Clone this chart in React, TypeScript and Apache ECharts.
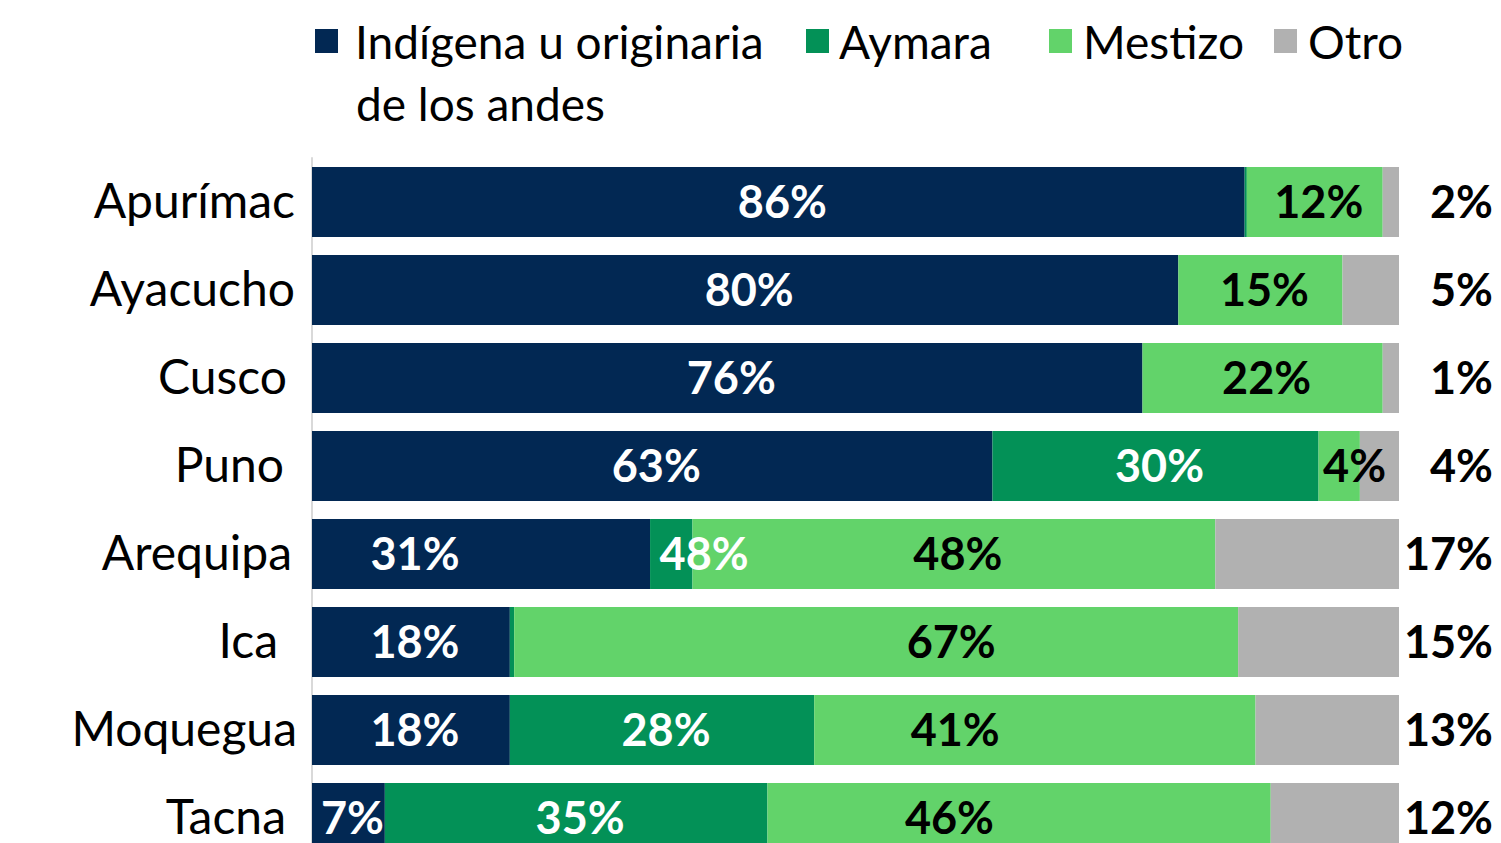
import React, { useEffect, useRef } from "react";
import * as echarts from "echarts";

const categories = ["Apurímac", "Ayacucho", "Cusco", "Puno", "Arequipa", "Ica", "Moquegua", "Tacna"];
const seriesNames = ["Indígena u originaria de los andes", "Aymara", "Mestizo", "Otro"];
const legendLine1 = "Indígena u originaria";
const legendLine2 = "de los andes";

const indigena = [85.8, 79.7, 76.4, 62.6, 31.1, 18.2, 18.2, 6.7];
const aymara = [0.2, 0, 0, 30.0, 3.9, 0.4, 28.0, 35.2];
const mestizo = [12.5, 15.1, 22.1, 3.8, 48.1, 66.6, 40.6, 46.3];
const otro = [1.5, 5.2, 1.5, 3.6, 16.9, 14.8, 13.2, 11.8];

const indigenaLabels = ["86%", "80%", "76%", "63%", "31%", "18%", "18%", "7%"];
const aymaraLabels = ["", "", "", "30%", "48%", "", "28%", "35%"];
const mestizoLabels = ["12%", "15%", "22%", "4%", "48%", "67%", "41%", "46%"];
const otroLabels = ["2%", "5%", "1%", "4%", "17%", "15%", "13%", "12%"];

const COLORS = ["#022853", "#039157", "#62D36A", "#B1B1B1"];
const FONT = "Lato";
const LEGEND_SIZE = 46;
const LABEL_SIZE = 45;
const CAT_SIZE = 48;

// label placement tweaks (pixels from the segment's left edge), styling only
const labelShift: Record<string, number> = {
  "0-4": 103,
  "1-4": 54,
  "2-3": 36,
  "2-5": 437,
  "2-6": 141,
  "2-7": 182,
};
// extra right padding of category labels (styling only)
const catPad = [2, 2, 10, 13, 5, 19, 0, 11];

function buildSeries(si: number, values: number[], labels: string[], color: string, labelColor: string) {
  return {
    name: seriesNames[si],
    type: "bar",
    stack: "total",
    barWidth: 70,
    itemStyle: { color },
    data: values.map((v, i) => {
      const key = `${si}-${i}`;
      const d: any = { value: v };
      if (labelShift[key] !== undefined) {
        d.label = { position: [labelShift[key], "50%"], align: "center", verticalAlign: "middle", offset: [0, -1] };
      }
      return d;
    }),
    label: {
      show: true,
      position: "inside",
      offset: [4, -1],
      color: labelColor,
      fontFamily: FONT,
      fontWeight: "bold",
      fontSize: LABEL_SIZE,
      formatter: (p: any) => labels[p.dataIndex],
    },
  };
}

export default function App() {
  const ref = useRef<HTMLDivElement>(null);
  useEffect(() => {
    if (!ref.current) return;
    const chart = echarts.init(ref.current, null, { renderer: "svg" });
    const rich: any = {};
    catPad.forEach((p, i) => {
      rich["c" + i] = { fontSize: CAT_SIZE, fontFamily: FONT, color: "#000", padding: [0, p, 6, 0] };
    });
    const legendBase = {
      orient: "horizontal",
      top: 18,
      padding: 0,
      itemWidth: 23,
      itemHeight: 24,
      icon: "rect",
      selectedMode: false,
    };
    const legendText = (padLeft: number) => ({
      fontFamily: FONT,
      fontSize: LEGEND_SIZE,
      color: "#000",
      padding: [0, 0, 0, padLeft],
    });
    const option: any = {
      animation: false,
      backgroundColor: "#ffffff",
      color: COLORS,
      legend: [
        { ...legendBase, left: 315, data: [seriesNames[0]], formatter: () => legendLine1, textStyle: legendText(12) },
        { ...legendBase, left: 806, data: [seriesNames[1]], textStyle: legendText(5) },
        { ...legendBase, left: 1049, data: [seriesNames[2]], textStyle: legendText(6) },
        { ...legendBase, left: 1274, data: [seriesNames[3]], textStyle: legendText(6) },
      ],
      graphic: [
        {
          type: "text",
          x: 356,
          y: 103,
          style: {
            text: legendLine2,
            fontFamily: FONT,
            fontSize: LEGEND_SIZE,
            fill: "#000",
            verticalAlign: "middle",
            align: "left",
          },
        },
      ],
      grid: { left: 312, right: 102, top: 158, height: 704, outerBoundsMode: "none", containLabel: false },
      xAxis: { type: "value", min: 0, max: 100, show: false },
      yAxis: {
        type: "category",
        data: categories,
        inverse: true,
        axisTick: { show: false },
        axisLine: { show: true, lineStyle: { color: "#D9D9D9", width: 2 } },
        axisLabel: {
          margin: 15,
          fontSize: CAT_SIZE,
          fontFamily: FONT,
          color: "#000",
          formatter: (v: string, i: number) => `{c${i}|${v}}`,
          rich,
        },
      },
      series: [
        buildSeries(0, indigena, indigenaLabels, COLORS[0], "#ffffff"),
        buildSeries(1, aymara, aymaraLabels, COLORS[1], "#ffffff"),
        buildSeries(2, mestizo, mestizoLabels, COLORS[2], "#000000"),
        {
          ...buildSeries(3, otro, otroLabels, COLORS[3], "#000000"),
          label: {
            show: true,
            position: "right",
            distance: 94,
            align: "right",
            verticalAlign: "middle",
            offset: [0, -1],
            color: "#000",
            fontFamily: FONT,
            fontWeight: "bold",
            fontSize: LABEL_SIZE,
            formatter: (p: any) => otroLabels[p.dataIndex],
          },
        },
      ],
    };
    chart.setOption(option);
    return () => chart.dispose();
  }, []);
  return (
    <div
      ref={ref}
      style={{ position: "absolute", left: 0, top: 0, width: 1501, height: 843, background: "#fff" }}
    />
  );
}
